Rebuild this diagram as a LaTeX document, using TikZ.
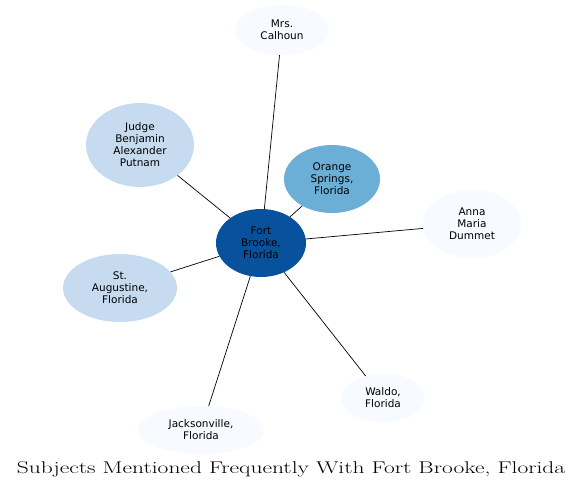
\documentclass[tikz,border=0pt]{standalone}
\usepackage{fontspec}
\usepackage{tikz}
\usetikzlibrary{shapes.geometric}
\newfontfamily\nodefont{DejaVu Sans}
\definecolor{hubcol}{HTML}{08519C}
\definecolor{midcol}{HTML}{6BAED6}
\definecolor{lightcol}{HTML}{C6DBEF}
\definecolor{palecol}{HTML}{F7FBFF}

\begin{document}
\begin{tikzpicture}[x=1pt, y=-1pt,
  subj/.style={ellipse, inner sep=0pt, align=center,
    font=\nodefont\fontsize{10.5}{12}\selectfont},
  conn/.style={line width=0.7pt},
  title/.style={font=\fontsize{17}{20}\selectfont},
]
\useasboundingbox (0,0) rectangle (584,490);

% =================== centre ===================
\node[subj, fill=hubcol, minimum width=90pt, minimum height=68pt] (fort) at (261,243) {Fort\\Brooke,\\Florida};

% =================== subjects ===================
\node[subj, fill=midcol, minimum width=96pt, minimum height=68pt] (orange) at (332,179) {Orange\\Springs,\\Florida};
\node[subj, fill=lightcol, minimum width=108pt, minimum height=84pt] (putnam) at (140,145) {Judge\\Benjamin\\Alexander\\Putnam};
\node[subj, fill=lightcol, minimum width=114pt, minimum height=68pt] (staug) at (120,288) {St.\\Augustine,\\Florida};
\node[subj, fill=palecol, minimum width=94pt, minimum height=50pt] (calhoun) at (282,30) {Mrs.\\Calhoun};
\node[subj, fill=palecol, minimum width=98pt, minimum height=68pt] (anna) at (472,224) {Anna\\Maria\\Dummet};
\node[subj, fill=palecol, minimum width=84pt, minimum height=48pt] (waldo) at (383,398) {Waldo,\\Florida};
\node[subj, fill=palecol, minimum width=126pt, minimum height=48pt] (jax) at (201,430) {Jacksonville,\\Florida};

% links to the centre
\draw[conn] (fort) -- (calhoun);
\draw[conn] (fort) -- (orange);
\draw[conn] (fort) -- (putnam);
\draw[conn] (fort) -- (anna);
\draw[conn] (fort) -- (staug);
\draw[conn] (fort) -- (waldo);
\draw[conn] (fort) -- (jax);

\node[title] (ttl) at (291,469) {\scalebox{1.38}[1]{Subjects Mentioned Frequently With Fort Brooke, Florida}};

\end{tikzpicture}
\end{document}
